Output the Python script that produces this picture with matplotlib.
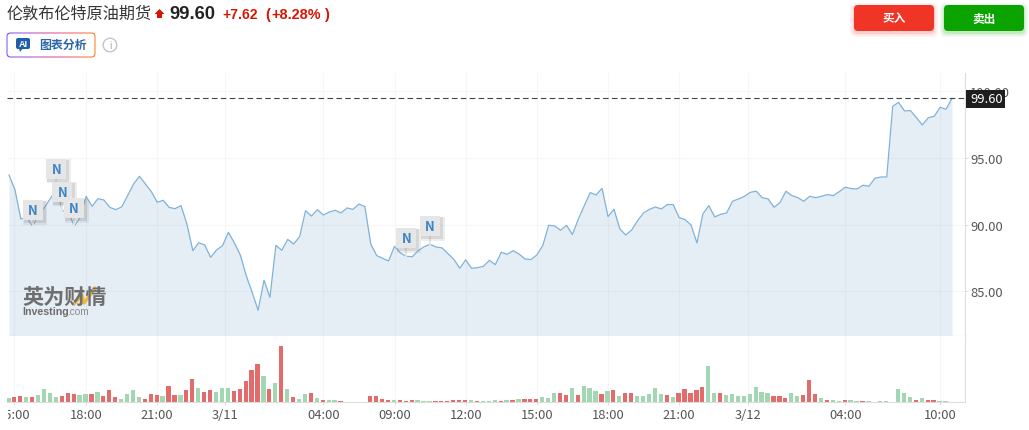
import numpy as np
import matplotlib
matplotlib.use("Agg")
import matplotlib.pyplot as plt
from matplotlib.colors import LinearSegmentedColormap
from matplotlib.patches import FancyBboxPatch, Circle, Polygon, Rectangle
from matplotlib.transforms import Affine2D, Bbox

plt.rcParams["font.family"] = ["Noto Sans CJK SC", "DejaVu Sans"]

# prices
price = [93.73, 92.63, 90.43, 90.55, 89.88, 90.8, 91.3, 91.98, 92.68, 91.05, 91.0, 89.88, 90.55, 92.13, 91.38, 91.95,
         91.85, 91.3, 91.13, 91.33, 92.18, 93.05, 93.63, 93.05, 92.48, 91.68, 91.83, 91.3, 91.2, 91.43, 90.05, 88.05,
         88.65, 88.48, 87.55, 88.1, 88.43, 89.43, 88.63, 87.73, 86.18, 84.93, 83.58, 85.83, 84.55, 88.45, 88.08, 88.9,
         88.55, 89.1, 91.05, 90.65, 91.13, 90.73, 90.95, 91.08, 90.88,
         91.26, 91.15, 91.55, 91.36, 88.55, 87.68, 87.48, 87.28, 88.38, 87.88, 87.63, 87.6, 88.05, 88.35, 88.53, 88.33,
         88.26, 87.83, 87.41, 86.73, 87.36, 86.73, 86.78, 86.88, 87.33, 87.0, 87.93, 87.78, 88.05, 87.8, 87.43, 87.38,
         87.73, 88.43, 89.96, 89.91, 89.58, 89.96, 89.26, 90.43, 91.43, 92.41, 92.23, 92.73, 90.61, 91.16, 89.68, 89.23,
         89.61, 90.31, 90.88, 91.16, 91.33, 91.18, 91.51, 91.51, 90.53,
         90.38, 89.98, 88.63, 90.81, 91.43, 90.58, 90.78, 90.88, 91.76, 91.93, 92.13, 92.43, 92.51, 92.03, 91.93, 91.31,
         91.66, 92.51, 92.18, 92.03, 91.76, 92.13, 92.03, 92.13, 92.26, 92.18, 92.48, 92.81, 92.71, 92.68, 92.96, 92.88,
         93.48, 93.58, 93.58, 98.88, 99.18, 98.53, 98.56, 98.03, 97.48, 98.03, 98.13, 98.81, 98.66, 99.48]

volume = [12, 15, 18, 15, 15, 21, 39, 27, 15, 18, 27, 24, 21, 24, 24, 30, 18, 36, 15, 9,
          24, 36, 15, 9, 24, 21, 18, 48, 21, 21, 36, 69, 42, 30, 36, 30, 42, 42, 33, 39,
          63, 96, 114, 78, 39, 57, 168, 39, 15, 9, 24, 27, 12, 6, 6, 4, 3,
          0, 0, 0, 0,
          18, 18, 9, 6, 6, 6, 3, 6, 6, 3, 3, 3, 3, 3, 6, 6, 6, 6, 3, 3, 3, 6, 3, 6, 6,
          9, 9, 9, 9, 15, 12, 27, 27, 21, 42, 21, 48, 42, 33, 24, 33, 36, 18, 27, 27,
          18, 18, 24, 42, 24, 21, 15, 27, 39,
          27, 36, 45, 108, 27, 27, 21, 24, 18, 18, 24, 45, 30, 27, 18, 18, 12, 27, 18, 21,
          66, 24, 12, 6, 6, 3, 6, 6, 3, 3, 3, 0, 3, 3, 0, 39, 27, 15, 6, 12, 6, 6, 3, 3]
vol_dir = list("grrgrggggrrrggrgrrrggggrrrgrrgrrgrrgggrrrrrgrgrgrggrgrggr" "rrrr"
               "rrrrgrrrgggrrrrrrgrgggrgrgrrrgggrrgrgggrgrgrrgggggrgrr"
               "rrrggrggggggggrrrggrrrgrggrggrggggggggrgrrgggg")[:len(volume)]

tick_pos = [0.85, 13, 24.9, 36.4, 53, 65, 77, 89, 101, 113, 124.6, 141, 157]
tick_text = ["15:00", "18:00", "21:00", "3/11", "04:00", "09:00", "12:00", "15:00", "18:00", "21:00", "3/12", "04:00", "10:00"]
y_ticks = [85, 90, 95, 100]
y_text = ["85.00", "90.00", "95.00", "100.00"]
last_text = "99.60"
news_idx = [4, 8, 9, 11, 67, 71]
news_off = [16, 20, 19, 18, 18, 18]

W, H = 1029, 431
fig = plt.figure(figsize=(W / 100, H / 100), dpi=100)


def px_rect(x0, x1, ytop, ybot):
    return [x0 / W, 1 - ybot / H, (x1 - x0) / W, (ybot - ytop) / H]


x = np.arange(len(price))
step = (952 - 9) / (len(price) - 1)
xlim = ((7 - 9) / step, (965 - 9) / step)
grid_c = "#f5f6f7"
lab_c = "#555555"

ax = fig.add_axes(px_rect(7, 965, 74, 336.5))
ax.set_xlim(xlim)
ax.set_ylim(90 + (225.7 - 336.5) / 13.33, 90 + (225.7 - 74) / 13.33)
ax.fill_between(x, price, ax.get_ylim()[0], color="#6f9fcb", alpha=0.18, lw=0, zorder=2)
ax.plot(x, price, color="#7fb2d9", lw=0.9, zorder=3)
ax.axhline(price[-1], color="#444444", lw=0.8, dashes=(5, 3), zorder=4)
ax.set_xticks(tick_pos)
ax.tick_params(axis="x", length=0, labelbottom=False)
ax.set_yticks(y_ticks)
ax.set_yticklabels(y_text)
ax.yaxis.tick_right()
ax.tick_params(axis="y", length=2.2, width=0.7, color="#dddddd", labelcolor=lab_c, labelsize=9.3, pad=1.5)
ax.grid(True, color=grid_c, lw=0.8, zorder=0)
ax.set_axisbelow(True)
for s in ["top", "left"]:
    ax.spines[s].set_visible(False)
ax.spines["right"].set_color("#dddddd")
ax.spines["bottom"].set_color("#c9d1da")

# news flags
for i, off in zip(news_idx, news_off):
    v = price[i]
    tr = ax.transData + Affine2D().translate(0, off)
    ax.plot([i, i], [v, v + off / 13.33], color="#e6e6e6", lw=1.4, zorder=5)
    for grow, dx, a in [(2.2, 2.5, 0.14), (1.2, 2, 0.22)]:
        shadow = ax.transData + Affine2D().translate(dx, off - dx)
        ax.plot([i], [v], marker="s", ms=14.4 + grow, mew=0, color="#888888", alpha=a, transform=shadow, zorder=5)
    ax.plot([i], [v], marker="s", ms=14.4, mew=0, color="#e6e6e6", transform=tr, zorder=5)
    ax.annotate("N", xy=(i, v), xytext=(0, off), textcoords="offset pixels", ha="center", va="center",
                color="#3a85c8", fontsize=9.4, fontweight="bold", zorder=5)

# volume panel
ax2 = fig.add_axes(px_rect(7, 965, 337, 402.5))
ax2.set_xlim(xlim)
ax2.set_ylim(0, 196.5)
bar_col = ["#e36b6b" if d == "r" else "#a3d6b2" for d in vol_dir]
ax2.bar(np.arange(len(volume)) - 0.1, volume, width=0.72, color=bar_col, lw=0, zorder=2)
ax2.set_xticks(tick_pos)
ax2.set_xticklabels(tick_text)
ax2.set_yticks([])
ax2.tick_params(axis="x", length=2.5, width=0.7, color="#dddddd", labelcolor=lab_c, labelsize=9.3, pad=2.5)
ax2.grid(True, axis="x", color=grid_c, lw=0.8, zorder=0)
ax2.set_axisbelow(True)
for s in ["top", "left"]:
    ax2.spines[s].set_visible(False)
ax2.spines["right"].set_color("#dddddd")
ax2.spines["bottom"].set_color("#dddddd")
ax2.get_xticklabels()[0].set_clip_box(Bbox([[8, 0], [W, H]]))
ax2.get_xticklabels()[0].set_clip_on(True)

# header, buttons, tag and logo in pixel coords
top = fig.add_axes([0, 0, 1, 1], facecolor="none")
top.set_axis_off()

grad = LinearSegmentedColormap.from_list("ai", ["#7b4dff", "#d946a0", "#ff7a1a"])
im = top.imshow(np.linspace(0, 1, 256).reshape(1, -1), extent=[6, 96, 59, 33], cmap=grad, aspect="auto")
outer = FancyBboxPatch((6.5, 33.5), 89, 25, boxstyle="round,pad=0,rounding_size=4", transform=top.transData, fc="none", ec="none")
top.add_patch(outer)
im.set_clip_path(outer)
top.add_patch(FancyBboxPatch((7.5, 34.5), 87, 23, boxstyle="round,pad=0,rounding_size=3", fc="white", ec="none"))
top.set_xlim(0, W)
top.set_ylim(H, 0)

top.text(7, 14.5, "伦敦布伦特原油期货", fontsize=11.6, color="#333333", va="center")
top.add_patch(Polygon([(159.5, 10), (164.5, 15), (162, 15), (162, 19), (157, 19), (157, 15), (154.5, 15)], fc="#d91400", ec="none"))
top.text(169, 14.5, "99.60", fontsize=13.2, fontweight="bold", color="#222222", va="center", family="Liberation Sans")
top.text(222, 15, "+7.62", fontsize=10, fontweight="bold", color="#d91400", va="center", family="Liberation Sans")
top.text(265.5, 15, "(", fontsize=10.4, fontweight="bold", color="#d91400", va="center", family="Liberation Sans")
top.text(271, 15, "+8.28%", fontsize=10.4, fontweight="bold", color="#d91400", va="center", family="Liberation Sans")
top.text(325, 15, ")", fontsize=10.4, fontweight="bold", color="#d91400", va="center", family="Liberation Sans")

top.add_patch(FancyBboxPatch((16, 39), 14, 11, boxstyle="round,pad=0,rounding_size=2", fc="#1f5fa8", ec="none"))
top.add_patch(Polygon([(19, 49), (23, 49), (20, 53)], fc="#1f5fa8", ec="none"))
top.text(23, 44.5, "AI", fontsize=6.5, fontweight="bold", color="white", ha="center", va="center", family="Liberation Sans")
top.text(39, 45.5, "图表分析", fontsize=8.6, fontweight="bold", color="#2a66a6", va="center")
top.add_patch(Circle((110, 46), 6.8, fc="none", ec="#c4c4c4", lw=1))
top.text(110, 46, "i", fontsize=8, color="#b5b5b5", ha="center", va="center", family="Liberation Sans")

for x0, col, label in [(854, "#f03527", "买入"), (944, "#0ba300", "卖出")]:
    for grow, a in [(4, 0.05), (2.5, 0.08), (1, 0.12)]:
        top.add_patch(FancyBboxPatch((x0 - grow, 6 - grow + 2), 80 + 2 * grow, 26 + 2 * grow,
                                     boxstyle="round,pad=0,rounding_size=5", fc=col, ec="none", alpha=a))
    top.add_patch(FancyBboxPatch((x0, 6), 80, 26, boxstyle="round,pad=0,rounding_size=4", fc=col, ec="none"))
    top.text(x0 + 40, 19, label, fontsize=8.4, fontweight="bold", color="white", ha="center", va="center")

top.add_patch(Rectangle((965.5, 90.5), 39.5, 18, fc="#1e1e1e", ec="none"))
top.text(986.5, 99.3, last_text, fontsize=9.3, fontweight="medium", color="white", ha="center", va="center")

top.text(22, 297, "英为财情", fontsize=15.2, fontweight="bold", color="#6e6e6e", va="center")
top.plot([73, 82, 84, 96], [306, 296, 304, 288], color="#f0b840", lw=2.4, solid_capstyle="butt")
top.text(22, 312, "Investing", fontsize=7.7, fontweight="bold", color="#6e6e6e", va="center", family="Liberation Sans")
top.text(67, 312, ".com", fontsize=7.2, color="#8a8a8a", va="center", family="Liberation Sans")

fig.savefig("out.png", dpi=100)
